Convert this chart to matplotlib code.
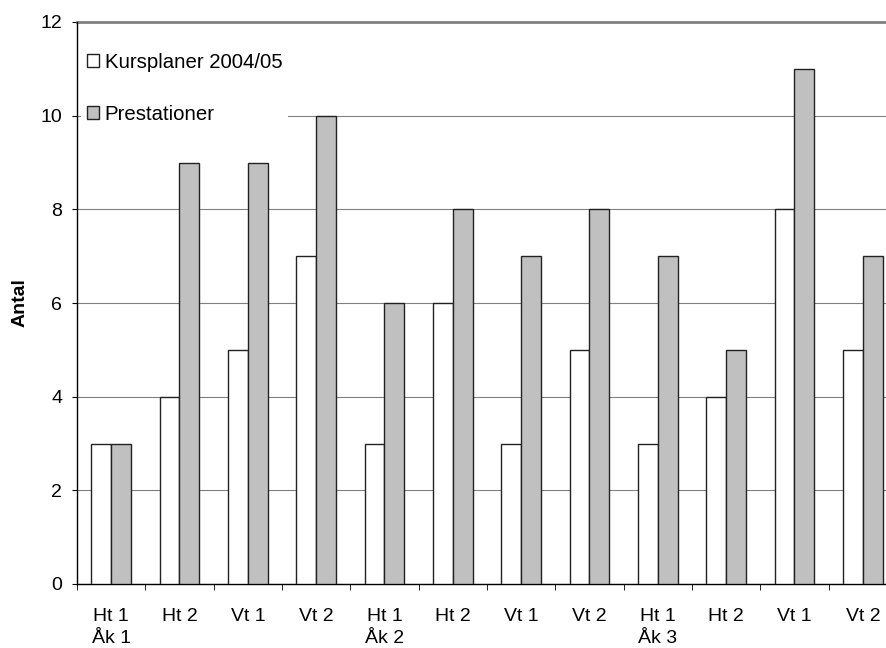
import matplotlib
matplotlib.use("Agg")
import matplotlib.pyplot as plt
import numpy as np

categories = ["Ht 1\nÅk 1", "Ht 2", "Vt 1", "Vt 2",
              "Ht 1\nÅk 2", "Ht 2", "Vt 1", "Vt 2",
              "Ht 1\nÅk 3", "Ht 2", "Vt 1", "Vt 2"]
kursplaner = [3, 4, 5, 7, 3, 6, 3, 5, 3, 4, 8, 5]
prestationer = [3, 9, 9, 10, 6, 8, 7, 8, 7, 5, 11, 7]
series_labels = ["Kursplaner 2004/05", "Prestationer"]
yticks = [0, 2, 4, 6, 8, 10, 12]

plt.rcParams['font.family'] = ['Liberation Sans', 'DejaVu Sans']
FS = 14

fig = plt.figure(figsize=(8.87, 6.48), dpi=100)
ax = fig.add_axes([77/887, 1-584/648, 820/887, (584-22)/648])

x = np.arange(len(categories))
w = 0.288
ax.bar(x - w/2, kursplaner, w, color='white', edgecolor='#222222', lw=1.0,
       label=series_labels[0], zorder=3)
ax.bar(x + w/2, prestationer, w, color='#c0c0c0', edgecolor='#222222', lw=1.0,
       label=series_labels[1], zorder=3)

ax.set_xlim(-0.5, len(categories) - 0.5)
ax.set_ylim(0, 12)
ax.set_yticks(yticks)
ax.set_yticklabels([str(t) for t in yticks], fontsize=FS)
ax.set_xticks(x)
ax.set_xticklabels(categories, fontsize=FS, linespacing=1.42)
ax.tick_params(axis='x', which='major', length=0, pad=17)
ax.set_xticks(np.arange(len(categories)) - 0.5, minor=True)
ax.tick_params(axis='x', which='minor', length=4.3, direction='out', color='black')
ax.tick_params(axis='y', length=3.6, direction='out', color='black', pad=7)

ax.yaxis.grid(True, color='#808080', lw=0.8, zorder=0)
ax.set_axisbelow(True)
for s in ['top', 'right']:
    ax.spines[s].set_visible(False)
ax.spines['left'].set_color('black')
ax.spines['bottom'].set_color('black')
ax.spines['left'].set_linewidth(1.0)
ax.spines['bottom'].set_linewidth(1.0)
ax.axhline(12, color='#808080', lw=2, clip_on=False, zorder=1)

ax.set_ylabel("Antal", fontsize=FS, fontweight='bold', labelpad=9)

leg = ax.legend(loc='upper left', bbox_to_anchor=(-0.005, 0.970), frameon=True,
                fontsize=14.7, labelspacing=1.6, handlelength=0.6,
                handleheight=0.6, handletextpad=0.25, borderpad=0.3,
                borderaxespad=0.4)
leg.get_frame().set_facecolor('white')
leg.get_frame().set_edgecolor('none')
leg.get_frame().set_alpha(1)
leg.get_frame().set_boxstyle('square', pad=0.0)

fig.savefig("out.png", dpi=100)
